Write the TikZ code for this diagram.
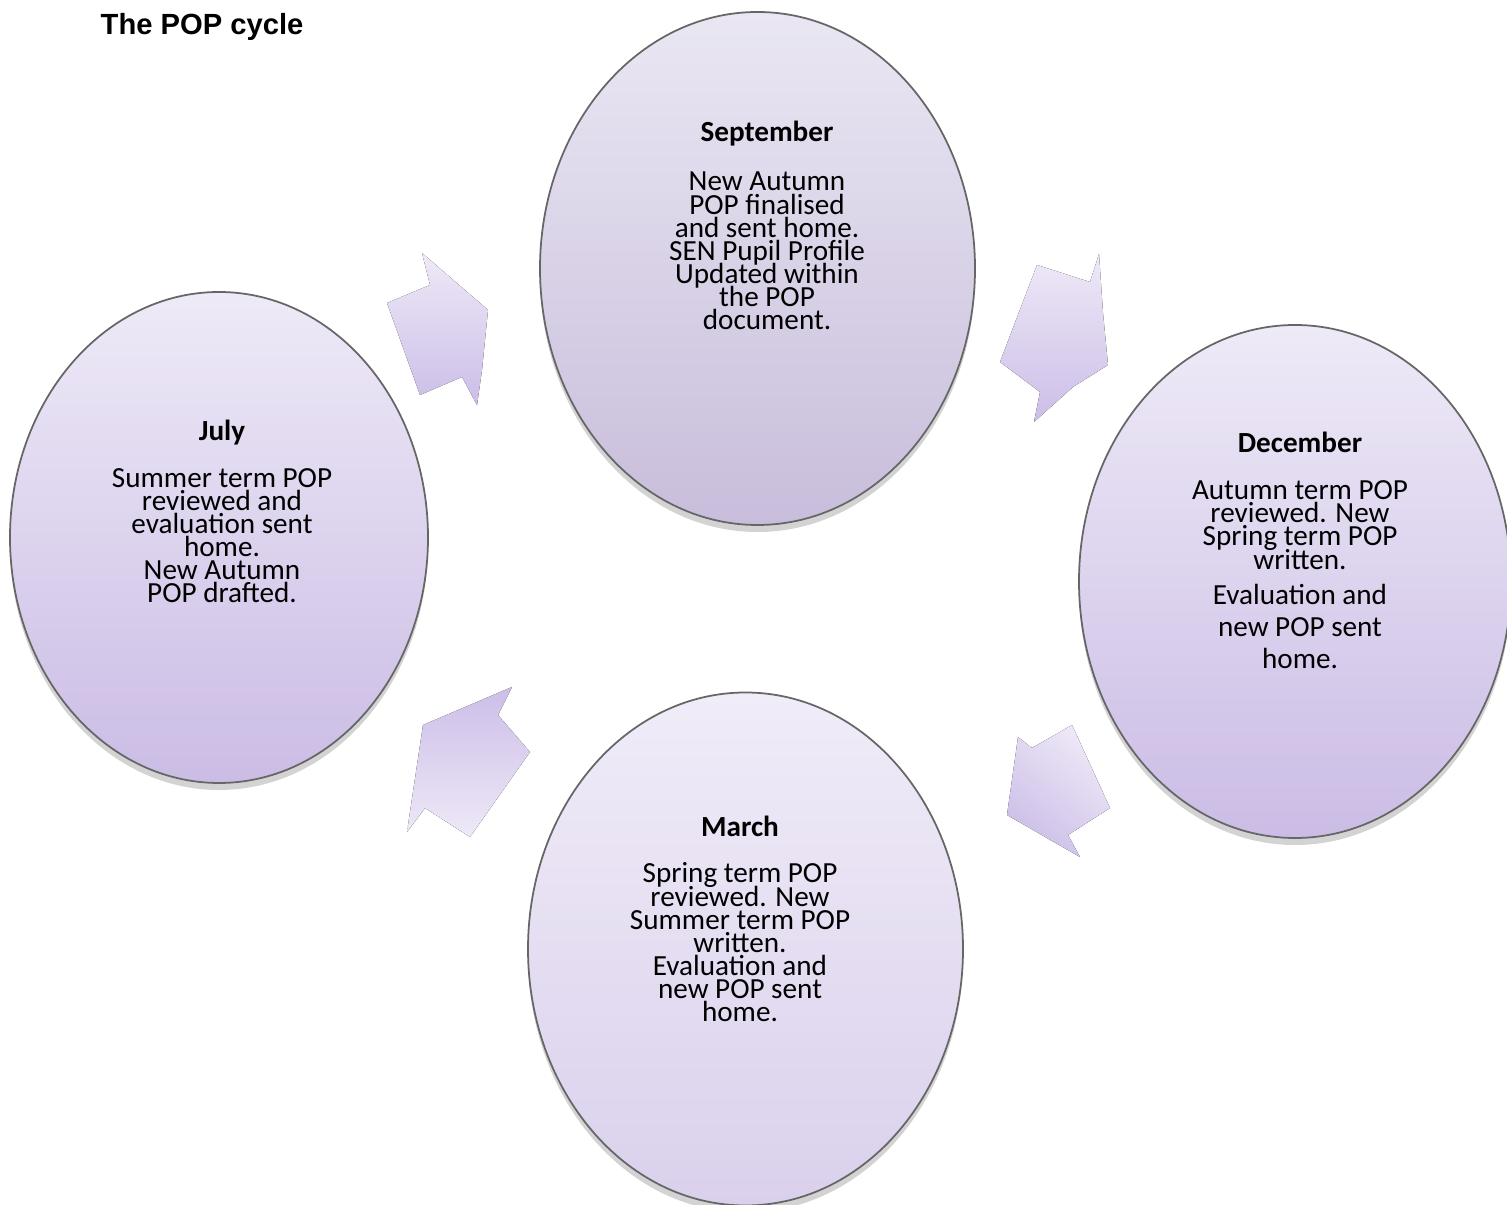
\documentclass[tikz,border=0pt]{standalone}
\usepackage{fontspec}
\setmainfont{Carlito}
\newfontfamily\titlefont{Liberation Sans}
\usetikzlibrary{positioning, shapes.geometric, shadows}

\definecolor{lilactop}{RGB}{238,234,247}
\definecolor{lilacbot}{RGB}{203,188,229}
\definecolor{greytop}{RGB}{234,231,243}
\definecolor{greybot}{RGB}{200,189,219}
\definecolor{paletop}{RGB}{240,236,248}
\definecolor{palebot}{RGB}{218,208,236}
\definecolor{arrowlight}{RGB}{238,233,247}
\definecolor{arrowdark}{RGB}{204,190,232}

\begin{document}
\begin{tikzpicture}[
		month/.style={ellipse, draw=black!60, line width=.5pt, inner sep=0pt, top color=lilactop, bottom color=lilacbot, drop shadow={shadow xshift=0pt, shadow yshift=-2pt, opacity=.35}},
		head/.style={anchor=base, inner sep=0pt, font={\fontsize{8.3}{10}\selectfont\bfseries}},
		body/.style={anchor=base, inner sep=0pt, align=center, font={\fontsize{8.3}{6.6}\selectfont\lineskiplimit=-100pt}},
		cyclearrow/.style={draw=none, top color=arrowlight, bottom color=arrowdark}
	]
	\useasboundingbox (0,0) rectangle (15.07,-12.05);

	\node[anchor=west, inner sep=0pt] (title) at (1.0,-0.27) {\titlefont\fontsize{8.3}{10}\selectfont\bfseries The POP cycle};

	% the four months
	\node[month, top color=greytop, bottom color=greybot, minimum width=4.35cm, minimum height=5.13cm] (sep) at (7.575,-2.685) {};
	\node[month, minimum width=4.18cm, minimum height=4.91cm] (jul) at (2.19,-5.375) {};
	\node[month, minimum width=4.32cm, minimum height=5.13cm] (dec) at (12.95,-5.815) {};
	\node[month, top color=paletop, bottom color=palebot, minimum width=4.35cm, minimum height=5.13cm] (mar) at (7.455,-9.49) {};

	% base of a text block = baseline of its last line
	\node[head] (septitle) at (7.67,-1.42) {September};
	\node[body] (septext) at (7.67,-3.30) {New Autumn\\ POP finalised\\ and sent home.\\ SEN Pupil Profile\\ Updated within\\ the POP\\ document.};

	\node[head] (jultitle) at (2.22,-4.41) {July};
	\node[body] (jultext) at (2.22,-6.03) {Summer term POP\\ reviewed and\\ evaluation sent\\ home.\\ New Autumn\\ POP drafted.};

	\node[head] (dectitle) at (13.00,-4.53) {December};
	\node[body] (dectext) at (13.00,-6.69) {Autumn term POP\\ reviewed. New\\ Spring term POP\\ written.\\[3.4pt] Evaluation and\\[2.6pt] new POP sent\\[2.6pt] home.};

	\node[head] (martitle) at (7.40,-8.37) {March};
	\node[body] (martext) at (7.40,-10.22) {Spring term POP\\ reviewed. New\\ Summer term POP\\ written.\\ Evaluation and\\ new POP sent\\ home.};

	% block arrows between the months
	\fill[cyclearrow] (4.22,-2.53) -- (4.30,-2.85) -- (3.87,-3.03) -- (4.20,-3.95) -- (4.62,-3.77) -- (4.77,-4.05) -- (4.82,-3.70) -- (4.88,-3.10) -- cycle;
	\fill[cyclearrow] (10.99,-2.54) -- (10.90,-2.82) -- (10.37,-2.65) -- (10.00,-3.62) -- (10.40,-3.92) -- (10.34,-4.22) -- (10.73,-3.87) -- (11.08,-3.65) -- (11.03,-3.13) -- cycle;
	\fill[cyclearrow, shading angle=-40] (10.18,-7.37) -- (10.32,-7.48) -- (10.72,-7.25) -- (11.10,-8.08) -- (10.68,-8.35) -- (10.80,-8.57) -- (10.07,-8.15) -- cycle;
	\fill[cyclearrow, top color=arrowdark, bottom color=arrowlight] (5.12,-6.87) -- (4.98,-7.15) -- (5.17,-7.37) -- (5.30,-7.52) -- (4.70,-8.37) -- (4.25,-8.08) -- (4.07,-8.32) -- (4.23,-7.25) -- cycle;
\end{tikzpicture}
\end{document}
